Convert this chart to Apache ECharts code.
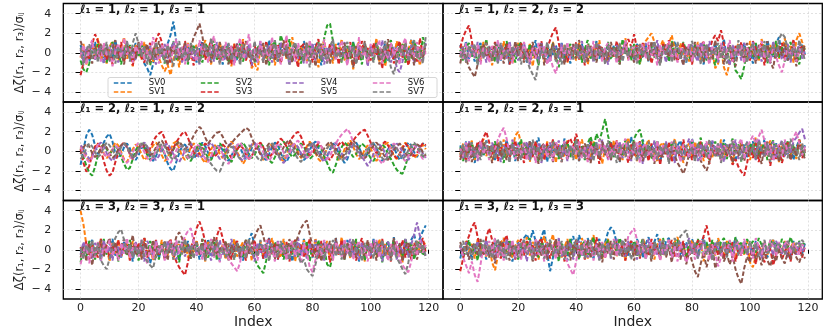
<!DOCTYPE html>
<html>
<head>
<meta charset="utf-8">
<script src="https://cdn.jsdelivr.net/npm/echarts@6/dist/echarts.min.js"></script>
<style>
  html, body { margin: 0; padding: 0; background: #fff; }
  #chart { width: 830px; height: 327px; }
</style>
</head>
<body>
<div id="chart"></div>
<script>
const seriesNames = ['SV0', 'SV1', 'SV2', 'SV3', 'SV4', 'SV5', 'SV6', 'SV7']
const colors = ['#1f77b4', '#ff7f0e', '#2ca02c', '#d62728', '#9467bd', '#8c564b', '#e377c2', '#7f7f7f']
const panelTitles = [
  'ℓ₁ = 1, ℓ₂ = 1, ℓ₃ = 1',
  'ℓ₁ = 1, ℓ₂ = 2, ℓ₃ = 2',
  'ℓ₁ = 2, ℓ₂ = 1, ℓ₃ = 2',
  'ℓ₁ = 2, ℓ₂ = 2, ℓ₃ = 1',
  'ℓ₁ = 3, ℓ₂ = 3, ℓ₃ = 1',
  'ℓ₁ = 3, ℓ₂ = 1, ℓ₃ = 3'
]
const xTicks = [0, 20, 40, 60, 80, 100, 120]
const yTicks = [-4, -2, 0, 2, 4]
const yLabel = 'Δζ(r₁, r₂, r₃)/σᵢⱼ'
const xLabel = 'Index'

// one row per SV0..SV7, value per index 0..119
const zeta111 = [
  [.8,-.3,.5,-.9,.2,1.1,-.4,.3,-1.0,.6,.1,-.7,1.3,-.2,.4,-.8,.9,-.5,.2,1.0,-.3,.5,-1.1,-1.6,-2.3,-1.2,.4,-.2,.8,-.6,.9,1.8,3.2,1.1,-.5,.3,-.9,.6,-.2,.4,-1.0,.5,1.2,-.3,.2,-.7,.8,-.1,.5,-1.2,.3,.9,-.4,.1,-.8,1.1,.2,-.6,.7,-.3,.4,-1.1,.6,.2,-.5,1.3,-.2,.1,-.9,.5,.8,-.4,.3,-1.0,.6,.1,-.7,1.2,-.3,.4,-.6,.9,.2,-1.3,.5,-.1,.7,-.8,.3,1.0,-.4,.6,-.9,.2,1.1,-.5,.3,-.2,.8,-1.1,.4,-.3,1.2,-.6,.1,.9,-.8,.5,-.2,.7,-1.0,.3,.6,-.4,1.4,-.2,.5,-.9,.3,.6],
  [-.5,.9,-1.2,.3,.7,-.4,1.5,-.8,.2,-1.1,.6,1.2,-.3,-.9,.4,1.6,-.6,.1,-1.4,.8,.3,-.7,1.1,-.2,.5,-1.0,.9,-.5,-1.3,-1.9,-1.2,-2.3,-.8,.4,-1.5,.7,-.2,1.0,-.6,.3,.8,-.9,.2,1.3,-.4,-1.2,.6,-.1,1.1,-.7,-.3,.5,-1.4,.9,.2,-.8,1.4,-.5,.3,-1.6,-1.1,-1.8,.4,.8,-.6,.2,1.0,-1.3,.5,-.2,1.2,-.7,.3,1.6,-.4,-1.0,.7,.1,-.9,1.1,-.2,.6,-1.5,.4,1.3,-.6,.2,-1.1,.9,-.3,1.4,-.8,.5,-.1,-1.7,.6,1.1,-.4,.2,-1.2,.7,-.3,1.5,-.9,.4,-1.4,.2,.8,-.6,1.2,-.4,.9,-1.0,.3,1.3,-.7,.1,-1.3,.6,.4],
  [-.8,-1.7,-2.0,-1.1,.2,-.5,.9,-.3,.6,-1.0,.4,1.1,-.6,.2,-1.2,.7,-.1,.8,-.9,.3,-.4,1.0,-.7,.5,-1.3,.2,.9,-.5,.1,-1.1,.6,-.2,1.2,-.8,.3,-.5,1.0,-1.2,.4,.7,-.6,.2,-1.0,.9,.5,-.3,1.3,-.7,.1,-.4,.8,-1.1,.4,.1,-.6,1.0,-.9,.3,.6,-.2,-1.0,.5,.9,-.4,.2,-1.3,.7,1.2,-.5,1.8,.9,-.3,1.4,-.7,.2,.6,-1.1,.4,-.2,.8,-.5,.3,1.1,-.8,1.5,2.8,3.0,1.2,-.4,.5,-1.0,.2,.7,-.6,1.1,-.3,.4,-1.2,.8,-.1,.5,-.9,1.0,-.4,.3,-1.1,.6,1.3,-.7,.2,-.3,.9,-1.0,.5,-.6,1.2,.3,-.8,1.6,.4],
  [-2.3,-1.0,.4,-.6,.9,1.9,1.2,-.3,.5,-.8,.2,-1.2,.7,-.4,1.1,-.9,.3,.6,-1.3,.1,.8,-.5,-1.0,.4,1.0,-.2,1.3,2.0,1.1,-.6,.3,-1.1,.7,-.2,.5,-.9,1.2,-.4,.1,-1.3,.6,-.3,1.0,-.7,.2,1.4,-.5,.3,-1.0,.8,-.2,.5,-1.2,.9,-.4,.3,1.1,-.8,.2,-1.4,.7,-.1,.5,-1.0,1.2,-.3,.4,-.6,.9,-1.1,.1,1.3,-.7,.4,-.2,-1.5,.6,.9,-.4,.3,-1.0,.5,1.4,-.6,.2,-.9,1.0,-.3,.6,-1.2,.3,.8,-.5,1.1,-1.4,.2,-.7,1.2,-.1,.5,-.8,1.0,-.3,.4,-1.6,.7,-.2,.9,-1.1,.3,1.2,-.5,.6,-1.3,.1,.8,-.9,1.5,-.4,.2],
  [.3,-.9,.6,-.2,1.0,-.7,.1,.8,-1.1,.4,-.5,.9,.2,-1.0,.5,-.3,1.2,-.6,.3,-.8,1.0,-.2,.4,-.9,.7,.1,-1.2,.5,-.4,.9,-.6,.3,1.1,-.5,.2,-1.0,.8,-.1,.6,-.7,.4,-1.2,.9,.2,-.4,.7,-.9,1.1,-.3,.5,-.8,.2,.6,-1.1,1.0,-.2,.3,-.6,.9,-1.3,.5,-.4,1.2,-.7,.1,.8,-1.0,.3,-.5,1.1,-.2,.6,-1.3,.4,.9,-.6,.2,-1.1,.7,-.3,1.0,-.8,.3,.5,-1.2,.6,-.1,.9,-.7,.2,-.4,1.1,-.9,.3,.6,-1.0,.8,-.2,.4,-1.4,.7,-.3,.2,-.8,1.3,-.5,.1,-1.0,.6,-1.6,-2.0,-.9,.5,-.3,.8,-1.1,.4,.2,-.7,1.0],
  [1.2,.3,-.8,.5,-1.1,.7,-.4,1.0,-.2,.6,-.9,.4,1.3,-.6,.1,-1.2,.8,-.3,.5,-.7,1.1,-.4,.2,.9,-1.0,.3,-.6,1.2,-.1,.4,-1.3,.6,-.2,.8,-.7,.2,1.0,-.9,.5,1.6,2.2,3.0,1.7,-.2,.6,-1.0,.4,-.5,1.1,-.3,.2,-1.2,.7,-.4,.9,-.8,.3,1.2,-.6,.1,-.9,.5,-.2,1.0,-1.3,.4,.8,-.7,.2,-.4,1.3,-.6,.1,-1.0,.7,-.2,.5,-.9,1.1,-.5,.3,-1.4,.6,.9,-.3,.2,-1.1,.8,-.6,.4,-.2,1.0,-.8,.3,-1.5,.7,.1,-.4,1.2,-.9,.5,-.1,.9,-1.2,.4,-.6,1.4,-.3,.2,-1.0,.8,-.4,1.1,-.7,.3,-1.3,.6,.2,-.5,.9],
  [-.4,.8,-1.2,.5,1.3,-.6,.2,-.9,1.0,-.3,.6,-1.4,.1,.9,-.5,1.5,-.2,.4,-1.0,.7,-.1,1.2,-.8,.3,-.6,1.6,.4,-1.1,.8,-.4,1.0,-.7,.2,1.4,-.3,.6,-1.2,.9,-.5,.1,-.9,1.3,-.2,.5,-1.0,.8,1.7,-.4,.2,-.8,1.1,-.3,.7,-1.3,.4,1.5,-.6,.1,1.9,-.2,.5,-1.0,1.2,-.4,.3,-.8,1.6,-.1,.7,-1.2,.2,1.8,-.5,.6,-.9,1.0,-.3,.4,-1.1,1.3,-.6,.1,.9,-.4,1.4,-1.0,.3,.8,-.7,.5,1.2,-.2,-1.3,.7,.4,-.8,1.6,-.5,.2,-1.0,.9,-.4,.6,1.3,-1.1,.2,-.6,1.0,-.3,.5,-1.2,.8,1.5,-.7,.1,-.4,1.1,-.9,.6,-.2],
  [.5,-1.3,.2,.9,-.6,.4,-1.0,.7,-.2,1.1,-.8,.3,-1.1,.6,.1,-.5,1.2,-.9,1.0,2.0,.9,-.4,.7,-1.2,.3,-.7,1.1,-.2,.5,-1.0,.8,-.3,-1.4,.4,1.2,-.6,.2,-.9,1.0,-.1,.6,-1.1,.3,.9,-.5,1.5,-.2,.4,-1.2,.7,-.4,1.0,-.8,.2,.6,-1.3,.9,-.1,.4,-.7,1.2,-.5,.3,-1.0,.8,.1,-.6,1.3,-.9,.2,-.3,.7,-1.2,.5,1.1,-.4,.2,-.8,.9,-1.5,.4,-.2,1.0,-.7,.3,-1.1,.6,1.4,-.5,.1,-.9,.5,1.1,-.3,.7,-1.2,.2,-.6,1.0,-.4,.3,-1.0,.8,.4,-.7,1.2,-.2,-1.5,-2.2,-.8,.6,-.3,1.0,-.9,.2,1.3,-.6,.4,-1.1,1.7]
]

const zeta122 = [
  [.8,-.3,1.2,-.6,.2,-.9,.5,1.0,-.4,.1,-.7,.6,-.2,1.1,-.8,.3,.7,-1.2,.4,-.1,.9,-.5,.2,-1.0,.6,-.3,1.3,-.7,.1,.5,-.9,.4,-.2,.8,-.6,1.0,-.4,.2,-1.1,.7,.3,-.5,.9,-.8,.1,.6,-.3,1.2,-.6,.2,-1.0,.5,-.1,.7,-.4,.3,-.8,1.1,-.2,.4,-.6,.9,.2,-.5,1.0,-.9,.3,.6,-.3,-1.1,.8,-.2,.5,-.7,1.2,.1,-.6,.4,-1.0,.7,-.3,.9,-.5,.2,-1.2,.6,.3,-.4,1.1,-.8,.2,1.4,-.6,.5,-.1,-.9,.7,-.3,1.0,-.5,.4,-1.1,.8,-.2,.6,-.7,1.3,.1,-.4,.9,1.6,-.3,.5,-.8,.2,1.1,-.6,.4,.8,-.2],
  [-.4,.7,-1.0,.3,.9,-.5,.2,-.8,1.1,-.2,.5,-1.3,.6,.1,-.7,1.2,-.4,.8,-1.1,.3,1.0,-.6,.2,-.3,.9,-1.4,.5,-.1,.7,-.9,.4,-.2,1.1,-.7,.3,-.5,.8,-1.0,.6,.1,-.8,1.0,-.3,.5,-1.2,.2,.7,-.4,1.3,-.6,.1,-.9,.6,.3,-.5,1.0,-.2,1.5,-.7,.4,-.3,.8,-1.1,.5,1.2,1.6,2.0,1.1,-.4,.6,1.3,-.2,.9,1.8,.4,-.6,1.0,-.3,.2,-.9,.7,-.4,1.1,-.8,.3,.5,-1.0,.2,-1.6,-1.1,.4,-1.5,-2.3,-.9,.6,-.2,1.0,-.5,.3,-.7,1.2,-.1,.6,-.9,1.4,.2,-.5,.8,-.3,1.0,-.6,.4,1.5,-.2,.7,-1.0,1.3,2.0,1.1,.3],
  [.3,-.8,.5,1.0,-.4,.2,-1.1,.7,-.2,1.4,-.5,.3,-.9,.8,.1,-.6,1.2,-.3,.4,-1.0,.6,1.1,-.2,-.7,.9,-.4,.2,-1.3,.5,-.1,.8,-.6,1.0,-.3,-1.5,.4,-.8,.3,.9,-.5,-.2,.7,-1.0,.4,1.3,-.6,.1,-.9,.6,.2,-.4,1.1,-.7,.3,.8,-1.2,1.4,-.1,.5,-.8,.9,-.3,-1.2,.6,.2,-.7,1.0,-.5,.4,-1.1,.7,.1,-.9,1.2,-.3,.5,-.6,1.1,.2,-.4,-1.0,.8,.3,-.5,1.0,-.8,.6,-.2,-1.3,.4,.9,-.6,.3,-1.0,.5,-1.8,-2.2,-2.7,-1.4,.2,.6,-.4,1.0,-.7,.3,.8,-1.1,.5,-.2,1.2,-.5,.7,-.9,.4,1.1,-.3,.2,-1.2,.6,.3],
  [.5,1.6,2.3,2.8,1.2,-.4,.7,-.9,.3,1.0,-.6,.2,1.1,-.8,.5,-.3,.9,-1.2,.4,.6,-.2,1.0,-.7,.3,-1.0,.8,-.4,.2,1.2,-.6,.4,1.3,2.1,2.6,1.0,-.5,.6,-.9,.2,-.3,1.1,-.7,.4,-1.3,.8,.1,-.5,.9,-.2,.6,-1.0,.3,.7,-.4,1.2,-.8,.2,.5,1.4,.6,1.9,.4,-.6,1.0,-.3,.8,-1.1,.2,.6,-.5,.9,-.2,1.3,-.7,.4,-.9,.1,1.0,-.4,.3,-1.2,.6,-.3,.8,1.1,-.6,.2,1.3,1.8,1.2,2.3,.9,-.4,.5,-1.0,.7,-.2,1.1,-.6,.3,-.8,1.2,.4,-.3,.9,-1.3,.5,-.1,.8,-.6,.2,1.0,-.7,.6,-.4,1.4,-.9,.3,.7,-.2],
  [-.3,.6,-.9,.2,.8,-.5,1.1,-.2,.4,-1.0,.7,-.4,.3,-1.1,.9,.1,-.6,1.2,-.3,.5,-.8,.4,1.0,-.2,-1.2,.6,.3,-.7,1.1,-.4,.2,-.9,.7,.5,-.3,1.0,-1.1,.4,-.6,.8,.1,-.5,1.2,-.8,.3,.6,-1.0,.2,.9,-.4,.5,-1.2,.4,-.1,.8,-.7,.3,1.1,-.5,.2,-.9,.6,.1,-.4,1.0,-.8,.5,-.3,1.3,-.6,.4,-1.0,.7,.2,-.5,.9,-.2,-1.2,.6,.1,.8,-.3,-.9,1.1,.4,-.6,1.2,-.1,.5,-1.0,.3,.7,-.4,-1.3,.8,-.2,.5,-.8,1.0,.2,-.6,1.1,-.3,.4,-.9,.7,.2,-1.1,1.2,-.4,.6,-.7,.3,.9,-1.0,.5,-.2,1.0,-.6,.4],
  [-1.1,.4,-.6,-1.5,-2.0,-2.5,-1.2,.3,.9,-.4,.6,-.8,1.0,-.2,.5,-1.1,.7,.2,-.6,1.2,-.3,.8,-1.0,.4,-.5,1.1,-.7,.2,.9,-1.3,.3,-.4,1.0,-.8,.6,.1,-1.2,.5,-.3,.9,-.6,1.3,-.1,.4,-.9,.7,.2,-1.0,.8,-.5,.3,-.7,1.1,-.3,.6,-1.2,.4,.9,-.6,.1,-1.0,.5,.8,-.4,.2,-.9,1.2,-.2,.6,-1.1,.4,.9,-.5,1.0,-.8,.3,-.1,-1.3,.7,.2,-.6,1.1,-.3,.5,-1.0,.8,.1,-.7,1.3,-.4,.6,-1.2,.2,.9,-.5,-1.4,.3,.7,-.8,1.0,-.2,.5,-1.1,.8,.3,-.6,1.2,-.9,-1.6,.4,.7,-.3,1.0,-.8,.2,.6,-1.4,.5,-.2,.9],
  [.2,-.6,1.0,-.9,.4,-.3,.8,-1.2,.5,.1,-1.0,.7,-.4,1.3,-.8,.3,-.1,.9,-1.1,.4,.6,-.5,1.1,-.2,-.9,.5,-.6,1.0,-.3,.7,-1.2,-.4,-1.5,-2.1,-.8,.6,-.2,1.1,-.7,.3,.9,-.5,.2,-1.0,.8,-.3,1.2,-.6,.4,-.9,.5,1.0,-.4,.3,-1.1,.7,-.2,1.3,-.8,.2,.6,-1.0,.4,.9,-.6,1.1,-.3,.2,-1.3,.8,-.1,.5,1.2,-.7,.3,-1.0,.6,.1,-.5,1.0,-.9,.4,.8,-.4,1.1,-.2,-1.2,.6,.3,-.7,1.0,-.5,.2,1.3,-.9,.4,-.3,.8,-1.1,.5,-.2,.9,-.7,.3,1.2,-.6,.1,-1.0,.7,-.4,-1.3,-2.0,-.8,.6,-.3,1.0,-.9,.4,.2,-.6],
  [-.5,.3,-1.0,.7,-.2,.9,-1.3,.4,-.6,1.0,.2,-.8,.5,-1.1,1.0,-.4,.3,-.9,.7,-.2,.6,-1.2,.4,-.7,-1.6,-2.2,-2.8,-1.0,.3,-.5,1.1,-.3,.6,-.9,.2,-1.2,.8,-.1,.5,-.7,1.0,-.6,.2,-1.0,.7,.4,-.8,1.1,-.3,.5,-1.2,.8,-.2,.4,-.6,1.0,-.9,.3,-.4,.7,.1,-1.1,.9,-.3,.5,-.7,.2,1.2,-.5,-1.3,.6,-.2,.8,-1.0,.3,1.1,-.6,.4,-.9,.2,1.2,-.4,.6,-1.2,.1,.9,-.7,.3,-.2,1.0,-.5,.4,-1.1,.7,.2,-.8,1.3,-.4,.6,-1.0,.3,1.0,-.6,.5,-.3,1.2,-.9,.2,.8,-.5,1.4,2.0,1.6,.5,-.7,.9,-.4,1.3,.2,-.8]
]

const zeta212 = [
  [-1.4,.2,1.6,2.2,1.7,.6,-.3,.1,.9,1.5,1.8,1.0,-.2,-.7,-.3,.4,.8,.3,-.5,-.9,-.4,.3,.6,.1,-.6,-1.0,-.5,.2,.4,-.3,-1.2,-1.8,-2.0,-1.1,-.2,.5,.7,.2,-.4,-.8,-.3,.4,.9,.5,-.2,-.7,-.4,.3,.6,.1,-.6,-1.0,-.5,.2,.7,.4,-.3,-.8,-.4,.3,.8,.5,-.1,-.7,-.9,-.3,.4,.9,.6,-.2,-.8,-1.1,-.5,.2,.6,.3,-.4,-.9,-.6,.1,.7,1.0,.4,-.3,-.8,-.5,.2,.8,.5,-.2,-.7,-1.2,-.8,.1,.6,.9,.4,-.3,-.7,-.2,.5,.8,.3,-.4,-1.0,-.6,.2,.7,.4,-.3,-.9,-.5,.3,.9,.6,-.1,-.6,.2,.8,.5],
  [.5,.1,-.6,-1.0,-.5,.3,.8,.5,-.2,-.7,-.4,.3,.9,.6,-.1,-.8,-1.1,-.5,.2,.7,.4,-.3,-.9,-.6,.1,.6,.9,.4,-.4,-1.0,-.7,.1,.8,1.0,.3,-.5,-.9,-.4,.4,.8,.5,-.2,-.8,-1.2,-.6,.2,.7,.4,-.3,-.7,-.2,.5,1.0,.6,-.1,-.6,-1.3,-.8,.1,.6,.9,.4,-.3,-.9,-.5,.3,.8,.5,-.2,-.8,-1.0,-.4,.4,.9,.6,-.1,-.7,-.3,.5,1.0,.6,-.2,-.8,-1.1,-.4,.3,.8,.4,-.3,-.9,-.6,.2,.7,1.1,.5,-.3,-.8,-.5,.2,.6,.3,-.4,-1.0,-.6,.1,.7,.9,.3,-.5,-.8,-.3,.5,.9,.4,-.2,-.7,-.4,.3,.7,.2],
  [.3,-.6,-1.5,-2.2,-2.5,-1.6,-.4,.4,.7,.2,-.3,.1,.6,.2,-.6,-1.3,-1.9,-1.7,-.8,.1,.6,.8,.3,-.4,-.9,-.5,.2,.7,.4,-.3,-.8,-.5,.2,.7,1.0,.5,-.2,-.8,-1.0,-.4,.3,.8,.6,-.1,-.7,-.9,-.3,.4,.8,.5,-.2,-.8,-1.1,-.5,.2,.6,.9,.4,-.3,-.7,-.4,.3,.8,.5,-.2,-.9,-1.2,-.6,.2,.7,1.0,.5,-.2,-.6,-.3,.4,.8,.5,-.2,-.8,-.5,.2,.6,.3,-.5,-1.2,-1.9,-2.2,-1.4,-.3,.4,.9,.6,-.1,-.6,-.3,.4,.8,.5,-.2,-.7,-1.0,-.4,.3,.7,.4,-.3,-.8,-1.4,-1.9,-2.2,-2.3,-1.5,-.4,.3,.7,.4,-.2,-.6,-.3],
  [.2,-1.2,-2.1,-1.5,-.4,.5,.8,.1,-1.0,-2.0,-2.5,-2.2,-1.1,-.1,.6,.9,.4,-.3,-.8,-.4,.2,.7,.4,-.2,.3,1.0,1.5,1.8,2.0,1.3,.5,-.2,.3,.9,1.4,1.8,2.0,1.4,.6,-.1,-.5,-.2,.4,.8,.5,-.1,-.6,-.3,.3,.7,.4,-.2,-.7,-.4,.2,.6,.3,-.3,-.8,-.5,.1,.6,.9,.4,-.2,-.6,-.3,.4,.9,1.3,1.0,.5,.9,1.4,1.8,2.0,1.5,.7,.1,-.4,-.2,.4,.8,.5,-.1,-.6,-.9,-.4,.2,.7,1.0,.6,.2,.6,1.1,1.5,1.8,2.1,2.2,1.6,.9,.3,-.2,.2,.7,1.0,.6,.1,-.4,-.7,-.3,.3,.8,.5,-.1,-.5,-.2,.4,.8,.6],
  [.6,.3,-.3,-.8,-.5,.1,.6,.9,.5,-.2,-.7,-1.0,-.6,.1,.5,.8,.4,-.2,-.7,-.5,.1,.6,.9,.5,-.1,-.6,-.9,-.5,.2,.6,.8,.3,-.3,-.8,-1.1,-.6,.1,.5,.8,.4,-.2,-.7,-.5,.1,.6,.9,.4,-.3,-.8,-.6,.1,.6,.8,.3,-.3,-.7,-1.0,-.5,.2,.7,.9,.4,-.2,-.7,-.4,.2,.6,.3,-.4,-.9,-1.2,-.7,.1,.6,.8,.4,-.2,-.6,-.3,.3,.8,.5,-.1,-.7,-1.1,-.6,.1,.6,.9,.4,-.2,-.8,-.5,.2,.7,.5,-.1,-.6,-1.0,-1.5,-1.0,-.3,.3,.7,.4,-.2,-.7,-.4,.3,.8,.5,-.1,-.6,-.9,-.4,.2,.7,.4,-.2,-.7],
  [-.3,.4,.8,.5,-.2,-.6,-.3,.3,.7,.4,-.2,-.7,-.4,.2,.6,.9,.5,-.1,-.6,-.3,.3,.8,.6,.1,-.4,-.2,.4,.9,1.1,.6,.1,-.3,.2,.7,1.0,.6,.2,.5,1.0,1.6,2.1,2.5,2.2,1.4,.8,1.2,1.6,1.9,2.0,1.5,.9,.5,.8,1.2,1.5,1.8,2.1,2.4,2.2,1.4,.7,.2,-.3,-.1,.4,.8,.5,-.1,-.5,-.2,.4,.9,1.2,.7,.2,-.3,-.6,-.2,.4,.8,.5,-.1,-.6,-.3,.3,.7,1.0,.6,.1,-.4,-.7,-.3,.3,.8,1.1,.7,.2,-.3,-.7,-.4,.2,.6,.9,.5,-.1,-.6,-.9,-.5,.1,.5,.8,.4,-.2,-.6,-.3,.3,.7,.5,-.1,-.5],
  [.4,-.2,-.8,-1.1,-.7,.1,.7,.4,-.2,-.6,-.3,.2,.6,.3,-.3,-.9,-1.2,-.8,-.1,.5,.9,.6,-.1,-.7,-1.0,-.6,.1,.7,.5,-.2,-.8,-1.2,-.7,.1,.6,.4,-.2,-.7,-.5,.2,.7,.5,-.2,-.8,-1.1,-.5,.2,.6,.3,-.3,-.9,-1.3,-.8,.1,.6,.9,.4,-.3,-.9,-.5,.2,.8,.6,-.1,-.7,-1.0,-.5,.3,.8,.5,-.1,-.6,-.3,.4,.9,1.1,.6,-.1,-.7,-.4,.2,.7,1.0,.5,-.2,-.8,-.5,.2,.8,1.3,1.7,2.0,2.3,1.8,.9,.2,-.4,-.8,-.4,.3,.7,.4,-.3,-.9,-1.3,-.8,-.1,.5,.8,.4,-.2,-.7,-1.0,-.5,.2,.6,.3,-.3,-.8,-.5],
  [-.8,-.4,.3,.8,.5,-.1,-.6,-.3,.4,.9,.6,.1,-.4,-.2,.4,.8,.5,-.2,-.7,-.4,.2,.7,.9,.4,-.2,-.6,-.3,.3,.8,.5,-.1,-.6,-.9,-.5,.2,.6,.4,-.3,-.8,-.5,.1,.5,.2,-.4,-.9,-1.3,-1.7,-2.0,-2.1,-1.4,-.6,.1,.5,.2,-.4,-.8,-.5,.2,.6,.4,-.2,-.7,-1.0,-.6,.1,.5,.8,.4,-.3,-.8,-.5,.2,.6,.3,-.3,-.8,-1.1,-.6,.1,.6,.9,.4,-.2,-.7,-.4,.3,.7,.4,-.2,-.6,-1.0,-.6,.1,.5,.8,.3,-.3,-.7,-.4,.2,.6,.9,.4,-.2,-.7,-1.0,-.5,.2,.6,.3,-.3,-.8,-.5,.1,.6,.9,.5,-.1,-.5,-.2]
]

const zeta221 = [
  [.6,-.4,1.0,-.8,.3,-1.2,.7,.1,-.5,1.1,-.2,.5,-.9,.8,.2,-.6,1.2,-.3,.4,-1.0,.9,-.1,.3,-.7,1.0,-.4,.6,1.4,-.5,.2,-1.1,.6,-.3,.8,-.6,.1,1.3,-.8,.4,-.2,.7,-1.0,.5,.2,-.5,1.1,-.3,.9,-.7,.3,.1,-.8,1.0,-.4,.6,-1.1,.3,.8,-.2,1.5,-.5,.4,-.9,1.2,.2,-.6,.7,-.3,1.0,-1.2,.5,.9,-.4,.2,-1.0,.6,1.1,-.3,.4,-.8,1.3,-.2,.6,-.9,.3,.8,-.5,1.0,-.1,.4,-.7,1.2,.2,-.4,.9,-1.1,.5,-.2,.7,-.6,.3,1.0,-.8,.6,-.3,1.3,-.1,.5,-1.0,.8,.2,-.5,1.1,-.3,.7,-.9,.4,1.2,-.2,.6],
  [-.3,.8,-.6,.2,1.1,-.9,.4,-.2,1.3,-.5,.6,-1.0,.3,.9,-.4,1.2,-.7,.5,.1,1.6,2.0,.8,-.3,.6,-1.1,.4,.9,-.5,.2,-.8,1.0,-.2,.5,-1.2,.7,.3,-.6,1.1,-.1,.4,-.9,.6,1.2,-.4,.2,-.7,1.0,-.3,.8,-1.3,.4,.1,-.6,1.1,-.2,.7,-.9,.3,1.4,-.4,.2,-1.0,.8,-.3,.5,1.2,-.7,.1,-1.1,.6,.9,-.4,.3,-.8,1.3,-.1,.6,-1.2,.4,.8,-.5,1.0,-.2,.7,-1.0,.3,1.1,-.6,.2,-.3,1.2,-.8,.5,.1,-1.3,.7,-.4,1.0,-.2,.6,-.9,.4,1.4,-.3,.8,-.6,.2,1.1,-.5,.3,-1.1,.7,.2,1.0,-.4,.5,-.8,1.2,.3,-.2],
  [.4,-1.0,.6,-.3,.9,-.7,.2,1.1,-.4,.5,-.8,.3,1.0,-.5,.1,-1.2,.7,-.2,.9,-.6,.3,1.2,-.4,.6,-.9,.2,.8,-1.1,.5,-.1,.7,-.5,1.1,.2,-.8,.6,-.3,1.0,-.6,.4,1.3,-.2,.5,-.9,.8,1.5,.3,1.8,1.0,2.1,3.3,1.6,.4,-.6,1.0,.2,-.4,1.2,.6,-.2,1.3,1.9,2.2,.9,-.3,.7,-.8,.4,1.1,-.5,.2,.8,-.6,1.0,-.2,.5,-1.0,.7,.3,-.4,1.1,-.7,.4,1.4,-.3,.6,-.9,.2,1.0,-.5,.3,.9,-.8,.5,1.3,-.2,.7,-1.1,.4,.1,.9,-.4,1.2,-.6,.3,.8,-.9,.5,1.1,-.3,.6,-1.0,.4,1.0,-.2,.7,-.5,.9,.2,-.6],
  [-.6,.5,-1.1,.8,.2,-.4,1.0,.6,1.4,2.0,.9,-.3,.6,-1.0,.4,-.2,.9,-.7,.3,1.1,-.5,.2,-1.2,.7,.1,-.6,1.0,-.3,.5,-.9,.8,-.4,1.2,-.1,.6,-1.1,.3,.9,1.3,.5,1.8,.7,-.5,.2,-.9,1.0,-.2,.4,-1.3,.6,.1,-.7,.9,-.3,1.1,-.8,.4,-.1,-1.2,.7,-.4,.3,1.0,-.6,.2,-1.0,.8,-.2,.5,-1.4,.6,-.3,.9,-1.1,.4,.1,-.8,1.2,-.5,.3,-.9,.5,-.2,1.0,-.6,.2,-1.3,.7,-.4,.3,-1.0,.6,-.5,.1,-1.4,-.8,-1.6,-2.1,-2.5,-1.2,.4,-.7,.8,-1.1,.2,-.5,1.0,-1.5,.3,-.8,.6,-1.2,-.2,.9,-.9,.4,-.4,1.1,-.7,.2],
  [.2,-.7,.5,1.0,-.4,.3,-1.0,.7,-.2,.6,-.5,.9,-.3,.2,-1.1,.6,.1,-.8,1.2,-.4,.7,-.6,.2,1.0,-.9,.4,-.3,.8,-1.2,.5,-.1,.9,-.7,.3,1.1,-.5,.2,-1.0,.6,-.3,1.0,-.8,.4,-.2,.7,-1.1,.5,.1,-.6,1.2,-.3,.6,-.9,.4,-.1,1.0,-.7,.2,.8,-1.0,.5,-.2,.9,-1.3,.3,.6,-.5,1.1,-.8,.2,-.4,1.0,-.6,.3,-1.2,.7,.1,-.9,.5,1.3,-.3,.4,-1.0,.8,-.2,.6,-.7,1.1,.2,-.5,.9,-1.1,.3,.7,-.4,1.2,-.8,.2,-.6,1.0,-.2,.5,-.9,1.3,.1,-.6,.8,-.3,1.0,-.7,.4,1.1,-.5,.6,-.2,1.0,1.4,1.9,2.3,1.2],
  [-.9,.4,-.2,.8,-1.1,.3,.6,-.5,1.0,-.3,.5,-1.2,.2,.9,-.6,.1,-.9,.7,-.3,.4,-1.0,.6,.2,-.7,1.1,-.4,.3,-1.3,.5,.8,-.2,.4,-1.1,.7,-.5,.1,.9,-.8,.3,-.4,.6,-1.0,.2,.8,-.3,-1.2,.5,.1,-.7,1.0,-.4,.3,-.9,.6,.2,-1.1,.7,-.3,.4,-.8,1.1,-.5,.2,-1.0,.6,-.2,.4,-1.3,.8,-.1,-.6,.3,-1.1,.5,-.4,-1.2,-1.7,-2.3,-1.5,-.3,.5,-.8,.2,-1.0,-1.5,-2.0,-1.1,.3,-.6,.1,-.9,.4,-.3,.7,-1.2,.2,-.5,.9,-1.0,.3,-.2,.6,-.8,.1,-1.3,.5,-.4,.8,-.7,.2,-1.1,.4,-.2,.7,-.9,.3,-.5,.6,-.1,-.8],
  [.3,-.5,.9,-1.0,.4,.1,-.7,1.1,-.3,.6,-.9,.5,.2,1.2,1.9,2.4,1.3,-.2,.4,-.8,.6,-.4,1.0,-.9,.2,.7,-1.2,.5,-.1,.8,-.6,.3,-1.0,.9,.4,-.5,1.1,-.8,.2,.6,-.3,1.0,-.7,.4,-1.1,.6,.1,-.5,1.2,-.2,.7,-.9,.3,-.4,1.0,-.6,.5,1.3,-.8,.2,-.3,.9,-1.2,.4,.8,-.5,.2,-1.0,1.1,-.4,.6,.1,-.8,1.0,-.3,.5,-1.1,.7,.2,-.6,1.2,-.4,.5,-.9,.3,1.0,-.7,.4,-.2,.9,-1.0,.6,.2,-.5,1.1,-.3,.7,1.3,-.8,.4,1.0,1.6,.8,1.5,2.2,1.1,-.4,.6,-1.0,.3,.7,-.6,1.2,-.2,.5,1.4,2.0,.8,-.4,.5],
  [-.4,.7,-1.1,.3,.9,-.6,.2,-.9,.5,1.0,-.3,.6,-.8,.1,1.1,-.5,.4,-1.2,.7,-.2,.3,-.9,.8,.2,-.6,1.2,-.4,.5,-1.0,.6,.1,-.7,1.0,-.3,.4,-1.1,.8,-.2,.6,-.9,1.2,-.4,.2,-.8,.7,.3,-1.0,.9,-.5,.4,-.2,1.1,-.7,.3,-1.2,.6,.1,-.6,1.0,-.3,.8,-1.0,.4,.2,-.7,1.0,-.5,.3,-.9,.6,-.1,.7,-1.3,.5,1.1,-.4,.2,-.8,.6,-.2,.4,-1.1,.9,-.3,.6,-.7,1.2,.1,-.5,.8,-1.2,.3,.7,-.6,1.0,-.2,.5,-1.0,.4,.9,-.4,.6,-.8,1.1,.2,-.5,.9,-1.1,.3,.7,-.6,1.0,.1,-.7,1.3,-.3,.4,-.9,.8,-.2]
]

const zeta331 = [
  [-.2,.6,-.9,.3,1.0,-.5,.2,-1.1,.7,-.3,.5,1.1,-.6,.2,-.8,.9,-.1,.4,-1.2,.6,.1,-.7,1.2,-.4,-1.4,-.2,.5,-.9,.3,.8,-.5,1.0,-.2,.4,-1.1,.6,-.3,.9,-.7,.2,.7,-1.0,.3,-.4,1.1,-.6,.2,.8,-1.2,.5,-.1,.6,-.8,1.0,-.3,.4,-1.1,.2,.9,1.7,.4,-.5,.8,-.9,.3,1.2,-.2,.6,-1.0,.1,.9,-.4,.5,-1.2,.2,.7,-.6,1.1,-.3,.4,-.8,.6,.1,-1.1,.9,-.2,.5,-.7,1.2,-.4,.3,-.9,1.0,.2,-.5,.8,-1.2,.4,-.1,.7,-.6,1.1,-.3,.5,-1.0,.2,.9,-.7,1.3,-.2,.6,-1.1,.4,-.5,1.0,1.6,.3,1.2,1.9,2.5],
  [4.0,2.6,.5,-.3,.6,-.9,.3,1.1,-.6,.2,-1.2,.8,-.4,1.0,-.7,.3,.6,-1.0,.9,-.2,.5,-.8,1.2,-.3,.1,-1.1,.7,-.5,1.0,.2,-.6,.9,-1.0,.4,.7,-.3,1.1,-.8,.2,-.4,1.0,-.5,.3,-1.2,.8,.1,-.6,.9,-.2,.5,-1.0,.6,-.3,1.1,-.7,.2,.8,-.4,1.0,-1.1,.3,-.2,.9,-.6,.5,-1.0,1.2,-.3,.4,-.8,1.1,-.5,.2,.8,-1.2,.6,-.1,1.0,-.7,.3,-.4,1.2,-.8,.5,-.2,.9,-1.1,.4,.7,-.5,1.3,-.3,.6,-.9,.2,1.0,-.6,.3,-1.2,.8,-.2,.5,-.8,1.1,-.4,.7,-1.0,.3,.9,-.6,.4,-1.3,.8,-.2,.6,-.7,1.0,-.4,.2,.9],
  [-1.3,.4,-.7,.9,.2,-1.0,.6,-.3,1.1,-.5,.3,-.8,.7,-1.2,.5,.1,-.6,1.0,-.4,.2,-1.1,.6,.3,-.7,.9,-.2,.5,-1.0,.7,-.4,.2,1.0,-.6,.4,-1.3,.8,-.1,.5,-.9,.3,.7,-.5,1.1,-.2,-.8,.4,.9,-1.1,.2,-.3,.8,-.6,.3,-1.0,.6,.1,-.7,1.0,-.3,.5,-.9,-1.6,-2.0,-2.4,-1.1,.4,-.5,.8,-.2,.6,-1.0,.3,.7,-.5,1.1,-.8,.2,-.3,.9,-1.2,.5,-.4,1.0,-.7,.2,-1.5,-1.8,-.6,.8,-.1,.4,-1.0,.6,.2,-.8,1.1,-.4,.3,-1.1,.7,-.2,.9,-.6,.5,-1.3,.3,.8,-.5,1.0,-.9,.4,-.7,1.2,-.3,.6,-1.0,.2,.9,-.6,.3],
  [.3,-.6,.9,-1.0,.4,.1,-.8,1.1,-.3,.6,-.9,.5,-.2,1.0,-.6,.3,.8,-1.1,.4,-.2,.7,-.5,1.2,-.8,.2,-.3,1.0,-.6,.5,-1.0,.4,1.1,-.4,-1.2,-1.8,-2.2,-2.6,-1.3,.2,1.1,2.2,2.9,2.0,.8,-.4,.3,-.7,1.4,2.3,1.2,-.2,.6,-1.0,.3,.9,-.5,.2,-1.1,.7,-.3,1.0,-.6,.4,-.9,.2,1.2,-.4,.6,-1.0,.3,-.5,.8,-1.2,.4,1.0,-.3,.6,-.8,.1,1.1,-.7,.3,-1.0,.9,-.2,.5,-1.3,.6,.2,-.5,1.0,-.8,.4,-.1,.7,-1.1,.3,1.2,-.6,.2,-.9,.5,.9,-.4,1.1,-.7,.2,-1.2,.6,.3,-.5,1.0,-.8,.4,-1.0,.7,-.2,.5,1.2,-.3],
  [-.5,.8,-.2,.5,-1.0,.7,.1,-.6,1.0,-.4,.3,-1.1,.6,.2,-.7,1.1,-.3,.5,-.9,.8,-.2,.4,-1.2,.9,.3,-.6,1.0,-.4,.1,-.8,.9,-.3,.6,-1.0,.2,.8,-.7,.4,-.1,1.1,-.6,.3,-.9,.7,.2,-1.1,.5,-.3,1.0,-.5,.4,-.8,1.1,-.2,.6,-1.0,.3,.8,-.4,.1,-1.2,.7,-.3,.5,-.9,1.0,.2,-.6,.9,-.2,.4,-1.0,.6,.1,-.7,1.2,-.4,.3,-.9,.7,-.3,1.0,-.5,.2,-1.1,.6,.1,-.8,1.0,-.4,.5,-.9,.3,1.1,-.6,.2,-1.0,.7,-.2,.4,-.7,1.0,-.3,.6,-1.2,.4,.8,-.5,.2,-1.0,.6,-.4,1.1,-.8,.5,1.6,2.8,1.4,.2,-.6],
  [-.8,.3,-1.2,.6,-1.6,.2,-.4,1.0,-.7,.5,1.2,-.3,.8,-.9,.4,1.1,-.5,.2,1.5,-.6,.3,-1.0,.7,.1,-.5,1.0,-.8,.4,-.2,.9,-1.1,.5,.2,1.3,1.8,1.2,-.4,.6,-.9,.3,.8,-.5,1.1,-1.0,.4,.1,1.3,-.6,.2,-.3,.9,-1.1,.5,-.2,.7,-.8,.3,1.0,-.4,.6,1.3,2.0,2.5,1.4,.2,-.7,.5,-1.0,.8,-.3,.4,-.9,1.1,-.2,.6,1.4,2.2,2.7,3.0,1.6,.3,-.8,.6,-1.2,.4,-.1,.9,-.6,1.2,-.4,.2,-1.0,.7,-.3,1.1,-.8,.5,.1,-.6,1.0,-.3,.6,-1.1,.4,.9,-.5,.2,-.9,1.2,-.2,.7,-1.2,.3,.8,-.4,.5,-1.0,.6,-.2,.4],
  [-1.5,-.2,.6,-1.4,.3,-.8,.9,-1.2,.5,-.3,1.0,-.6,.2,-1.1,.7,-.4,1.2,-.9,.3,.6,-.7,1.1,-.2,-1.5,.4,-.9,.8,-.3,.5,-1.1,.2,.9,-.6,1.0,-.4,.6,1.4,1.9,2.2,.8,-.5,.3,-1.0,.7,-.2,1.1,-.8,.4,-1.3,.5,.1,-.9,-1.4,-1.8,-2.2,-1.3,.3,-.5,.9,-.2,.6,-1.1,.4,-.3,1.0,-.7,.2,-1.2,.8,-.4,.5,-1.0,.3,.9,-.6,.1,-1.3,.7,-.2,-1.8,-2.3,-1.0,.4,-.6,1.0,-.3,.5,-1.1,.8,.2,-.7,1.1,-.4,.6,-1.0,.3,.9,-.5,.2,-1.2,.7,-.2,1.0,-.8,.4,-.1,-1.1,.6,-.5,.9,-1.0,-1.6,-2.0,-2.3,-1.2,.4,-.6,1.0,-.3,.5],
  [.2,-.9,.5,-.3,1.0,-.6,.7,-1.1,-1.6,-2.0,-.9,.4,1.2,1.8,2.1,1.0,-.3,.6,-.8,.3,-.5,1.0,-.7,-1.2,-1.6,-1.9,-.6,.4,-.2,.8,-.4,.6,-1.0,.2,.9,-.5,1.1,-.3,.4,-.9,.7,-.2,.5,-1.1,.3,.8,-.6,1.0,-.4,.2,-.8,.6,.1,-1.0,.7,-.3,.4,-.9,1.1,-.5,.3,-.7,1.0,-.2,.5,-1.2,.6,.1,-.8,.9,-.4,.5,-1.0,.3,.8,-.6,-1.4,-1.0,-2.0,-2.4,-2.7,-1.5,-.3,.6,-.9,.4,-.2,1.0,-.7,.3,-1.0,.6,.2,-.8,1.1,-.4,.5,-1.2,.7,-.1,.4,-.9,.8,-.3,1.0,-.6,.2,-1.1,.5,-.8,-1.4,-2.0,-2.5,-1.3,.2,-.5,.9,-.3,.6,-.9]
]

const zeta313 = [
  [-.9,.4,-.2,.7,-1.1,.3,.8,-.5,.1,-1.0,.6,-.3,.9,-.7,.2,1.1,-.4,.5,-1.2,.3,.8,-.6,1.2,1.6,.7,2.0,.9,-.2,1.3,2.1,-.3,-2.2,-.8,.6,1.0,-.4,.3,-1.1,.7,1.4,-.2,1.5,.5,-.7,1.2,.1,-.9,.6,1.1,-.3,.8,1.8,2.3,1.9,.7,-.4,1.0,.3,-.6,.9,-.2,1.1,.4,-.8,.6,1.3,-.3,.8,1.6,.2,-.5,.9,1.2,-.1,.5,1.0,-.7,.3,.8,-.4,1.1,.2,-.6,.7,1.3,-.3,.5,-.9,.4,1.0,-.2,.6,-.7,.9,.2,1.2,-.4,.3,.8,-.1,.5,-.6,.9,.3,-.3,.7,-.8,.4,1.0,-.2,.6,-.5,.8,.2,-.7,.9,-.1,.4,-.4,.7],
  [.4,-.5,.9,-.2,.6,-.9,1.1,-.4,.3,-.7,.5,-1.3,-2.1,-.6,.7,1.2,-.3,.9,-.8,.4,1.0,-.5,.2,1.3,-.6,.8,.1,-1.0,.6,1.4,-.2,.5,1.6,-.4,.9,-.8,.3,1.1,-.5,.2,.8,-.6,1.2,.1,-.9,.7,1.5,-.3,.4,-1.0,.6,1.1,-.2,.5,-.7,1.0,.3,-1.1,.8,.2,-.4,.9,-.8,1.2,.4,-.3,.7,-1.0,.5,1.1,-.6,.2,1.0,-.4,.8,1.3,-.2,.6,-.9,.4,1.0,-.5,.3,.9,-1.2,.6,-.1,.8,-.6,1.2,.2,-.7,.9,-.3,.5,-1.0,.7,.1,-.5,.9,-1.3,-1.8,-.6,.4,-.2,.8,-.5,.3,1.0,-.4,.6,-.3,.9,-.7,.2,.8,-.4,.5,-.1,.3],
  [.5,-.8,.3,1.0,-.4,.2,-1.1,.7,-.2,.9,-.6,.4,1.1,-.3,.6,-.9,.2,1.0,-.5,.3,-1.0,.7,-.2,.5,1.2,-.6,.1,-.8,.9,.3,-.4,1.0,-.7,.4,-1.2,.6,.2,-.5,1.1,-.3,.7,-1.0,.4,.9,-.6,.2,1.3,-.4,.5,-.9,.3,1.0,-.5,.6,-.2,1.2,.4,-.8,.7,-.1,.9,-.6,.3,1.1,-1.0,.5,-.3,.8,.2,-.7,1.2,-.4,.6,-.9,.3,1.0,-.2,.5,-.8,.9,.1,-.5,1.1,.4,-.7,.8,-.3,1.0,.2,-.4,.8,1.2,.3,.9,-.2,1.3,.5,.7,-.4,1.1,.3,.9,-.3,1.2,.5,.6,-.2,1.0,.4,.8,-.3,1.1,.6,.2,1.3,.4,-.1,.9,.5,.7],
  [-2.2,-.9,.6,1.4,2.3,2.8,1.3,.2,-.6,1.3,2.2,1.0,-.4,.5,-.9,.8,1.5,-.3,.6,-1.0,.3,1.1,-.6,.9,-.2,.5,-1.1,.7,1.2,-.4,.8,-.9,.2,1.0,-.5,.4,-1.2,.6,.1,-.7,1.1,-.3,.5,-1.0,.8,.2,-.6,1.3,-.2,.4,-.8,.7,.1,-.5,1.0,-.3,.6,-1.1,.4,.9,-.2,.5,-.9,.8,.3,-.6,1.1,-.1,.4,-1.0,.7,-.4,.2,1.0,-.7,.5,-.2,.9,-1.2,.3,.6,-.5,1.0,.2,1.4,2.5,1.1,-.3,.7,-.6,.3,-.9,.5,-.2,.8,-1.2,.1,-.6,.4,-.3,-1.0,.2,-1.5,.5,-.4,-1.3,.3,.1,-1.6,-.5,.4,-1.0,-.2,.6,-1.2,.3,-.5,.2,-.8,.4],
  [.3,-.6,.8,-1.0,.4,-.2,.9,-.7,.1,1.0,-.5,.3,-1.1,.6,.2,-.8,1.1,-.4,.5,-.9,.7,-.3,.4,-1.2,.9,.1,-.6,1.0,-.2,.5,-.9,.6,.2,-.5,1.2,-.7,.3,-.1,.8,-1.0,.4,.9,-.6,.2,-.8,1.0,-.3,.6,-1.1,.5,-.2,.8,-.9,.4,1.1,-.5,.2,-.7,.9,-.1,.5,-1.0,.7,-.3,.2,1.1,-.8,.4,-.5,.9,-.6,.3,1.0,-1.1,.5,-.2,.8,-.7,.3,1.2,-.4,.6,-.9,.2,1.0,-.5,.3,-1.0,.7,.1,-.6,.9,-.2,.5,-.8,.6,.2,-.4,.8,-.5,.3,-.7,.6,.1,-.9,.7,-.3,.5,-.6,.9,.2,-.4,.7,-.8,.4,.1,-.5,.8,-.2,.3],
  [.8,-.3,.5,-1.0,.2,.7,-.6,1.1,-.4,.3,-.8,.6,-1.4,.2,.9,-.5,.4,-1.1,.7,-.2,.5,-.9,1.0,-.3,.6,-1.2,.2,.8,-.6,.4,-1.0,.7,-.2,1.1,-.7,.3,-.4,.9,-1.1,.5,.1,-.8,.6,-.3,1.0,-.9,.4,-.5,.8,-1.3,.3,-.4,.9,-1.0,.5,.2,-.7,1.1,-.3,.6,-1.1,.4,-.2,.8,-.6,.3,-1.2,.7,.1,-.5,.9,-.8,.2,-1.3,.6,-.4,-1.0,.5,-1.5,-.2,-1.2,-2.2,-2.8,-1.4,-.3,-1.8,-.5,.4,-1.9,-1.0,.2,-1.2,-.4,-1.5,-.6,-2.0,-2.9,-3.5,-1.9,-.7,-1.3,.1,-1.0,-.4,-1.6,-.2,-1.1,-1.7,-.5,-1.2,.2,-.9,-1.4,-.3,-1.0,.1,-.8,-1.3,-.4,-.9],
  [.5,-.8,-1.6,-2.4,-1.2,-2.6,-3.3,-1.5,.3,-.6,.9,-.4,1.2,-.8,.3,-1.1,.6,-.2,1.0,-.7,.4,-1.0,.8,-.3,.6,-.9,1.1,-.5,.2,-1.2,.7,-.1,.5,-1.0,.9,-.4,.2,-1.4,-2.0,-2.6,-1.2,.4,-.6,1.0,-.3,.7,-1.1,.5,-.2,.8,-.9,.3,-.5,1.1,-.7,.4,.9,-.3,1.4,1.8,2.2,1.0,-.4,.6,-1.0,.3,.8,-.6,.2,-1.1,.5,-.3,1.0,-.8,.4,-1.2,.6,-.1,-1.3,-.5,.7,-1.0,.3,.9,-.6,.2,-1.1,.5,-.4,-1.7,-.8,.6,-.3,1.0,-1.2,.4,.8,-.6,1.1,-.2,.5,-.9,1.2,.3,-.5,.9,-.2,1.0,.4,-.6,.8,-.3,.6,1.0,-.4,.7,.2,-.5,.6,.1],
  [.2,.9,-.5,.3,-1.0,.6,.1,-.7,1.0,-.4,.5,-.9,.3,1.1,-.6,.2,-1.0,.7,-.3,.4,-.8,.6,1.0,-.5,.3,-1.1,.8,-.2,.5,-.9,.4,1.0,-.6,.2,-.3,.9,-1.0,.5,.1,-.7,1.1,-.4,.6,-.9,.3,1.0,-.5,.2,-1.1,.7,-.3,.5,-.8,.9,.2,-.6,1.0,-.4,.3,-1.0,.6,.1,-.7,1.1,-.3,.5,-.9,.8,.2,-.5,1.0,-.6,.4,-.2,1.2,.3,1.4,1.7,2.0,.6,-.4,.8,-.9,.3,1.0,-.5,.6,-1.1,.2,.9,-.3,.7,-.8,.4,.1,1.0,-.6,.5,.2,-.4,.9,-.2,.6,-.7,.3,1.0,-.4,.5,.8,-.3,.6,.2,-.5,.9,.4,-.2,.7,.3,1.0,.5]
]

const panels = [zeta111, zeta122, zeta212, zeta221, zeta331, zeta313]

// panel frame in px (2 columns x 3 rows, no gaps)
const colLeft = [63.3, 443]
const colWidth = [379.7, 379.3]
const rowTop = [3.5, 102, 200.5]
const rowHeight = 98.5

const chart = echarts.init(document.getElementById('chart'), null, { renderer: 'canvas' })

const grids = []
const xAxes = []
const yAxes = []
const titles = []
const series = []

panels.forEach((panel, p) => {
  const col = p % 2
  const row = Math.floor(p / 2)
  const bottomRow = row === 2

  grids.push({
    left: colLeft[col],
    top: rowTop[row],
    width: colWidth[col],
    height: rowHeight,
    show: true,
    borderColor: '#000',
    borderWidth: 1.3,
    backgroundColor: 'transparent',
    containLabel: false,
    outerBoundsMode: 'none'
  })

  xAxes.push({
    type: 'value',
    gridIndex: p,
    min: -5.95,
    max: 124.95,
    minInterval: 20,
    maxInterval: 20,
    axisLine: { show: false },
    axisTick: {
      show: bottomRow,
      length: 4,
      customValues: xTicks,
      lineStyle: { color: '#000', width: 1 }
    },
    axisLabel: {
      show: bottomRow,
      customValues: xTicks,
      color: '#222',
      fontSize: 11,
      margin: 4
    },
    splitLine: { show: true, lineStyle: { color: '#d4d4d4', width: 0.7, type: [2, 2] } },
    name: bottomRow ? xLabel : '',
    nameLocation: 'middle',
    nameGap: 13,
    nameTextStyle: { fontSize: 14, color: '#222' }
  })

  yAxes.push({
    type: 'value',
    gridIndex: p,
    min: -5.05,
    max: 5.05,
    minInterval: 2,
    maxInterval: 2,
    axisLine: { show: false },
    axisTick: {
      show: true,
      length: 5,
      customValues: yTicks,
      lineStyle: { color: '#000', width: 1 }
    },
    axisLabel: {
      show: col === 0,
      customValues: yTicks,
      color: '#222',
      fontSize: 11,
      margin: 12,
      formatter: v => String(v).replace('-', '\u2212 ')
    },
    splitLine: { show: true, lineStyle: { color: '#d4d4d4', width: 0.7, type: [2, 2] } },
    name: col === 0 ? yLabel : '',
    nameLocation: 'middle',
    nameGap: 37,
    nameTextStyle: { fontSize: 11.5, color: '#222' }
  })

  titles.push({
    text: panelTitles[p],
    left: col === 0 ? 80 : 459,
    top: rowTop[row] + 1,
    padding: 0,
    textStyle: { fontSize: 11.5, fontWeight: 'bold', color: '#111' }
  })

  panel.forEach((values, k) => {
    series.push({
      type: 'line',
      name: seriesNames[k],
      xAxisIndex: p,
      yAxisIndex: p,
      data: values.map((v, i) => [i, v]),
      symbol: 'none',
      color: colors[k],
      lineStyle: { color: colors[k], width: 2, type: [4.5, 2.2] },
      animation: false
    })
  })
})

// legend in the first panel: 4 columns of 2 entries
const legendLeft = [113, 200, 285, 372]
const legends = legendLeft.map((left, c) => ({
  data: [seriesNames[2 * c], seriesNames[2 * c + 1]],
  orient: 'vertical',
  left: left,
  top: 78.5,
  padding: 0,
  itemGap: 0,
  itemWidth: 20,
  itemHeight: 8,
  selectedMode: false,
  itemStyle: { opacity: 0 },
  lineStyle: { width: 1.6 },
  textStyle: { fontSize: 8.5, lineHeight: 9, color: '#111', padding: [0, 0, 0, 10] }
}))

chart.setOption({
  animation: false,
  textStyle: { fontFamily: 'DejaVu Sans' },
  title: titles,
  grid: grids,
  xAxis: xAxes,
  yAxis: yAxes,
  legend: legends,
  graphic: [{
    type: 'rect',
    z: 3,
    shape: { x: 108, y: 77.5, width: 329, height: 20, r: 2 },
    style: { fill: 'rgba(255,255,255,0.8)', stroke: '#cccccc', lineWidth: 0.8 }
  }],
  series: series
})
</script>
</body>
</html>
